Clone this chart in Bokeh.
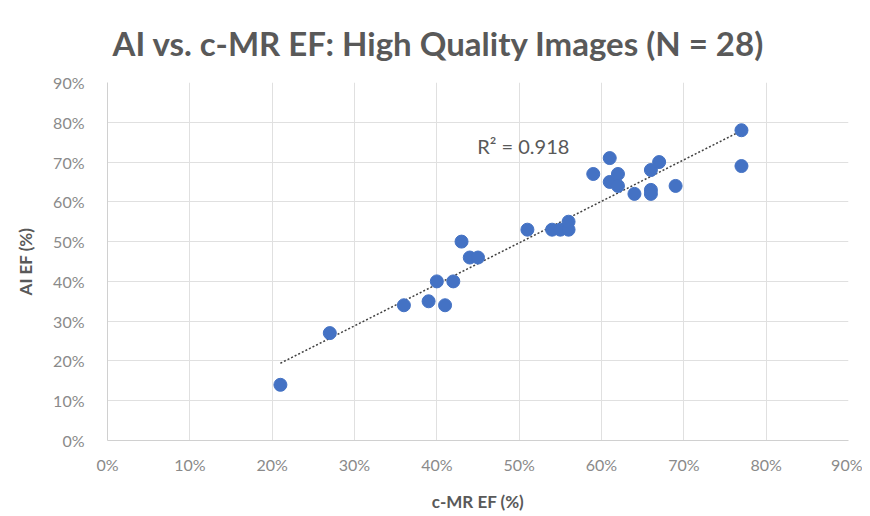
import numpy as np
from bokeh.plotting import figure
from bokeh.models import Range1d, NumeralTickFormatter, FixedTicker, Label
from bokeh.embed import file_html
from bokeh.resources import INLINE

# c-MR EF (%) and AI EF (%) for 28 high quality images
cmr_ef = [21, 27, 36, 39, 41, 40, 42, 43, 44, 45, 51, 54, 55, 56, 56, 59, 61, 61,
          62, 62, 64, 66, 66, 66, 67, 69, 77, 77]
ai_ef = [14, 27, 34, 35, 34, 40, 40, 50, 46, 46, 53, 53, 53, 53, 55, 67, 71, 65,
         67, 64, 62, 62, 63, 68, 70, 64, 78, 69]
tick_values = [0, 10, 20, 30, 40, 50, 60, 70, 80, 90]
r_squared_text = "R\u00b2 = 0.918"
title_text = "AI vs. c-MR EF: High Quality Images (N = 28)"

x = np.array(cmr_ef, dtype=float) / 100.0
y = np.array(ai_ef, dtype=float) / 100.0
slope, intercept = np.polyfit(x, y, 1)
x_line = np.array([x.min(), x.max()])
y_line = slope * x_line + intercept

p = figure(width=862, height=514, output_backend="svg", toolbar_location=None,
           x_range=Range1d(0, 0.9), y_range=Range1d(0, 0.9),
           min_border_left=107, min_border_right=14, min_border_top=82,
           min_border_bottom=72)

p.title.text = title_text
p.title.align = "left"
p.title.offset = 5
p.title.text_font = "Lato"
p.title.text_font_size = "33px"
p.title.text_font_style = "bold"
p.title.text_color = "#595959"
p.title.standoff = 40

ticks = [t / 100.0 for t in tick_values]
for ax in (p.xaxis[0], p.yaxis[0]):
    ax.ticker = FixedTicker(ticks=ticks)
    ax.formatter = NumeralTickFormatter(format="0%")
    ax.major_tick_line_color = None
    ax.minor_tick_line_color = None
    ax.axis_line_color = "#d0d0d0"
    ax.major_label_text_color = "#8a8a8a"
    ax.major_label_text_font = "Lato"
    ax.major_label_text_font_size = "16px"
    ax.axis_label_text_font = "Lato"
    ax.axis_label_text_font_size = "17px"
    ax.axis_label_text_font_style = "bold"
    ax.axis_label_text_color = "#595959"

p.xaxis.axis_label = "c-MR EF (%)"
p.yaxis.axis_label = "AI EF (%)"
p.xaxis.major_label_standoff = 8
p.yaxis.major_label_standoff = 17
p.xaxis.axis_label_standoff = 14
p.yaxis.axis_label_standoff = 14

p.xgrid.ticker = FixedTicker(ticks=ticks)
p.ygrid.ticker = FixedTicker(ticks=ticks)
p.grid.grid_line_color = "#e0e0e0"
p.grid.grid_line_width = 1
p.outline_line_color = None

p.line(x_line, y_line, line_color="#404040", line_width=1.5, line_dash="2 2")
p.scatter(x, y, size=13, fill_color="#4472C4", line_color="#4472C4")

p.add_layout(Label(x=0.505, y=0.74, text=r_squared_text, text_font="Lato",
                   text_font_size="20px", text_color="#595959",
                   text_align="center", text_baseline="middle"))

open("out.html", "w").write(file_html(p, INLINE))
